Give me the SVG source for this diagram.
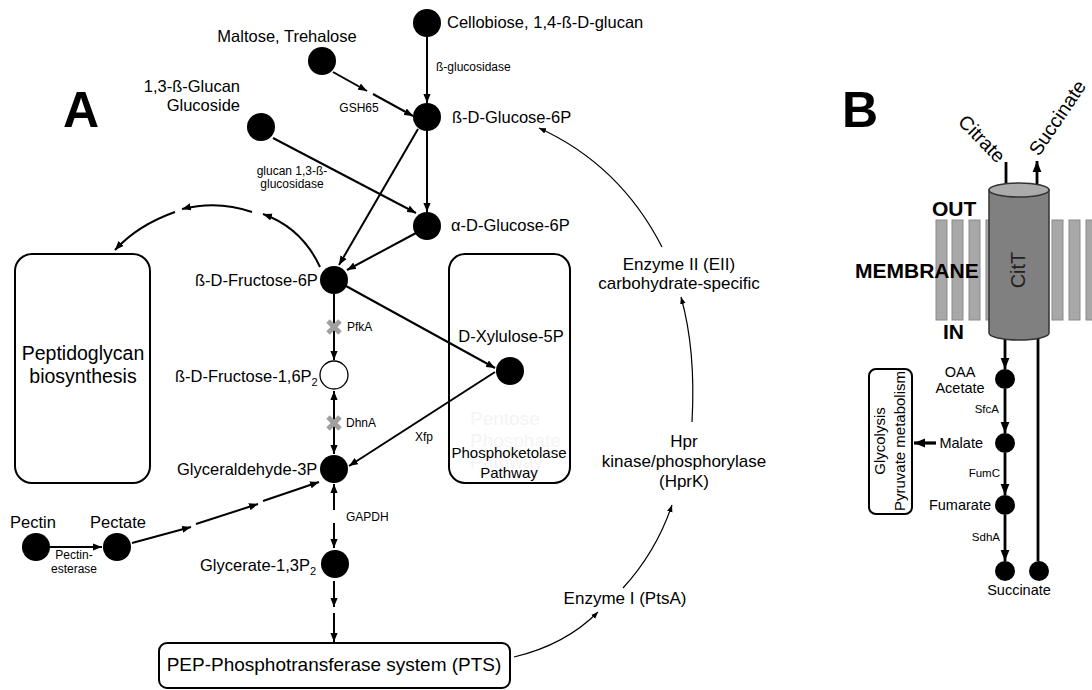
<svg xmlns="http://www.w3.org/2000/svg" width="1092" height="690" viewBox="0 0 1092 690">
<defs>
<marker id="ah" viewBox="0 0 10 8" markerUnits="userSpaceOnUse" markerWidth="9" markerHeight="7.5" refX="10" refY="4" orient="auto-start-reverse"><path d="M0,0 L10,4 L0,8 z" fill="#000"/></marker>
<marker id="ahs" viewBox="0 0 10 8" markerUnits="userSpaceOnUse" markerWidth="7" markerHeight="6" refX="10" refY="4" orient="auto"><path d="M0,0 L10,4 L0,8 z" fill="#000"/></marker>
<marker id="ahb" viewBox="0 0 10 8" markerUnits="userSpaceOnUse" markerWidth="11" markerHeight="10" refX="10" refY="4" orient="auto"><path d="M0,0 L10,4 L0,8 z" fill="#000"/></marker>
</defs>
<style>
text{font-family:"Liberation Sans",Arial,sans-serif;fill:#000}
.lbl{font-size:16.5px}
.sm{font-size:12px}
.enz{font-size:17px}
.big{font-size:50px;font-weight:bold}
.bold{font-size:21px;font-weight:bold}
.bl{font-size:14.5px}
.bsm{font-size:11.5px}
.c{text-anchor:middle}
.e{text-anchor:end}
.node{fill:#000}
.box{fill:#fff;stroke:#000;stroke-width:2}
.ln{fill:none;stroke:#000;stroke-width:2;marker-end:url(#ah)}
.thin{fill:none;stroke:#000;stroke-width:1.2;marker-end:url(#ahs)}
.bln{fill:none;stroke:#000;stroke-width:2.8}
.xg{stroke:#a0a0a0;stroke-width:5}
.bar{fill:#a8a8a8;stroke:#8a8a8a;stroke-width:1}
.faint{font-size:19px;fill:#f4f4f4}
</style>

<text class="big" x="63" y="127">A</text>
<text class="big" x="842" y="127">B</text>

<!-- boxes -->
<g id="peptidoglycan">
<rect class="box" x="15" y="254" width="135" height="229" rx="17"/>
<text class="c" style="font-size:19.5px" x="83" y="360">Peptidoglycan</text>
<text class="c" style="font-size:19.5px" x="83" y="383">biosynthesis</text>
</g>
<g id="pentose">
<rect class="box" x="449" y="254" width="121" height="229" rx="16"/>
<text class="faint" x="470" y="425">Pentose</text>
<text class="faint" x="470" y="447">Phosphate</text>
<text class="faint" x="470" y="468">Pathway</text>
<text class="c" style="font-size:15px" x="509" y="458">Phosphoketolase</text>
<text class="c" style="font-size:15px" x="509" y="478">Pathway</text>
</g>
<g id="pts">
<rect class="box" x="159" y="643" width="351" height="45" rx="8"/>
<text class="c" style="font-size:19px" x="334" y="671">PEP-Phosphotransferase system (PTS)</text>
</g>

<!-- connectors -->
<g id="connectors">
<line class="ln" x1="427" y1="37" x2="427" y2="103"/>
<line class="ln" x1="333" y1="72" x2="367" y2="91"/>
<line class="ln" x1="373" y1="94" x2="413" y2="116"/>
<line class="ln" x1="273" y1="138" x2="416" y2="213"/>
<line class="ln" x1="427" y1="131" x2="427" y2="212"/>
<line class="ln" x1="418" y1="129" x2="339" y2="265"/>
<line class="ln" x1="416" y1="233" x2="347" y2="270"/>
<line class="ln" x1="346" y1="286" x2="495" y2="368"/>
<line class="ln" x1="495" y1="372" x2="349" y2="466"/>
<line class="ln" x1="334" y1="294" x2="334" y2="360"/>
<line class="ln" x1="334" y1="391" x2="334" y2="454" style="marker-start:url(#ah)"/>
<line class="ln" x1="334" y1="510" x2="334" y2="484"/>
<line class="ln" x1="334" y1="523" x2="334" y2="548"/>
<line class="ln" x1="334" y1="581" x2="334" y2="607"/>
<line class="ln" x1="334" y1="613" x2="334" y2="642"/>
<line class="ln" x1="49" y1="547" x2="102" y2="547"/>
<line class="ln" x1="132" y1="543" x2="191" y2="527"/>
<line class="ln" x1="196" y1="524" x2="258" y2="504"/>
<line class="ln" x1="263" y1="501" x2="319" y2="482"/>
<path class="ln" d="M320,267 Q302,228 263,214"/>
<path class="ln" d="M252,212 Q218,200 182,209"/>
<path class="ln" d="M175,212 Q138,225 115,250"/>
<path class="thin" d="M514,657 Q565,645 598,612"/>
<path class="thin" d="M623,588 Q656,552 672,505"/>
<path class="thin" d="M692,422 Q696,350 681,297"/>
<path class="thin" d="M662,247 Q620,165 539,128"/>
<line class="xg" x1="328" y1="321" x2="340" y2="333"/>
<line class="xg" x1="340" y1="321" x2="328" y2="333"/>
<line class="xg" x1="328" y1="417" x2="340" y2="429"/>
<line class="xg" x1="340" y1="417" x2="328" y2="429"/>
</g>

<!-- edge labels -->
<text class="sm" x="436" y="71">ß-glucosidase</text>
<text class="sm c" x="359" y="112">GSH65</text>
<text class="sm c" x="292" y="175">glucan 1,3-ß-</text>
<text class="sm c" x="292" y="188">glucosidase</text>
<text class="sm" x="347" y="331">PfkA</text>
<text class="sm" x="346" y="427">DhnA</text>
<text class="sm" x="415" y="441">Xfp</text>
<text class="sm" x="346" y="521">GAPDH</text>
<text class="sm c" x="74" y="559">Pectin-</text>
<text class="sm c" x="74" y="573">esterase</text>

<!-- nodes -->
<g id="cellobiose"><circle class="node" cx="427" cy="23" r="14"/><text class="lbl" x="447" y="28">Cellobiose, 1,4-ß-D-glucan</text></g>
<g id="maltose"><circle class="node" cx="322" cy="61" r="14"/><text class="lbl c" x="287" y="42">Maltose, Trehalose</text></g>
<g id="glucan"><circle class="node" cx="261" cy="127" r="14"/><text class="lbl e" x="240" y="92">1,3-ß-Glucan</text><text class="lbl e" x="240" y="111">Glucoside</text></g>
<g id="b-glucose-6p"><circle class="node" cx="427" cy="117" r="14"/><text class="lbl" x="452" y="123">ß-D-Glucose-6P</text></g>
<g id="a-glucose-6p"><circle class="node" cx="427" cy="226" r="14"/><text class="lbl" x="451" y="231">α-D-Glucose-6P</text></g>
<g id="fructose-6p"><text class="lbl" x="195" y="286">ß-D-Fructose-6P</text><circle class="node" cx="334" cy="280" r="14"/></g>
<g id="fructose-16p2"><text class="lbl" x="175" y="382">ß-D-Fructose-1,6P<tspan style="font-size:11px" dy="4">2</tspan></text><circle cx="334" cy="375" r="14" fill="#fff" stroke="#000" stroke-width="1.3"/></g>
<g id="glyceraldehyde-3p"><text class="lbl" x="177" y="475">Glyceraldehyde-3P</text><circle class="node" cx="334" cy="469" r="14"/></g>
<g id="glycerate-13p2"><text class="lbl" x="200" y="571">Glycerate-1,3P<tspan style="font-size:11px" dy="4">2</tspan></text><circle class="node" cx="335" cy="564" r="14"/></g>
<g id="xylulose-5p"><circle class="node" cx="510" cy="371" r="14"/><text class="lbl c" x="511" y="342">D-Xylulose-5P</text></g>
<g id="pectin"><circle class="node" cx="36" cy="547" r="14"/><text class="lbl c" x="33" y="528">Pectin</text></g>
<g id="pectate"><circle class="node" cx="117" cy="547" r="14"/><text class="lbl c" x="118" y="528">Pectate</text></g>
<g id="enzyme-ii"><text class="enz c" x="679" y="270">Enzyme II (EII)</text><text class="enz c" x="679" y="289">carbohydrate-specific</text></g>
<g id="hprk"><text class="enz c" x="684" y="447">Hpr</text><text class="enz c" x="684" y="467">kinase/phosphorylase</text><text class="enz c" x="684" y="487">(HprK)</text></g>
<g id="enzyme-i"><text class="enz c" x="625" y="604">Enzyme I (PtsA)</text></g>

<!-- Panel B -->
<g id="membrane">
<rect class="bar" x="936" y="220" width="11" height="100"/>
<rect class="bar" x="952" y="220" width="11" height="100"/>
<rect class="bar" x="969" y="220" width="11" height="100"/>
<rect class="bar" x="986" y="220" width="11" height="100"/>
<rect class="bar" x="1052" y="220" width="11" height="100"/>
<rect class="bar" x="1069" y="220" width="11" height="100"/>
<rect class="bar" x="1086" y="220" width="11" height="100"/>
<text class="bold" x="932" y="216">OUT</text>
<text class="bold" x="855" y="278">MEMBRANE</text>
<text class="bold" x="943" y="339">IN</text>
</g>
<g id="connectors-b">
<line class="bln" x1="1006" y1="162" x2="1006" y2="186"/>
<line class="bln" x1="1037" y1="186" x2="1037" y2="161" style="marker-end:url(#ahb)"/>
<line class="bln" x1="1005" y1="338" x2="1005" y2="369" style="marker-end:url(#ahb)"/>
<line class="bln" x1="1038" y1="338" x2="1038" y2="561"/>
<line class="bln" x1="1005" y1="389" x2="1005" y2="433" style="marker-end:url(#ahb)"/>
<line class="bln" x1="1005" y1="453" x2="1005" y2="495" style="marker-end:url(#ahb)"/>
<line class="bln" x1="1005" y1="515" x2="1005" y2="561" style="marker-end:url(#ahb)"/>
<line class="bln" x1="936" y1="443" x2="914" y2="443" style="stroke-width:3.2;marker-end:url(#ahb)"/>
</g>
<g id="citt">
<path d="M989,190 L989,333 A30,7 0 0 0 1049,333 L1049,190 z" fill="#808080" stroke="#333" stroke-width="1.5"/>
<ellipse cx="1019" cy="190" rx="30" ry="7" fill="#ababab" stroke="#333" stroke-width="1.5"/>
<text transform="translate(1025,270) rotate(-90)" class="c" style="font-size:20px;fill:#222">CitT</text>
</g>
<g id="citrate"><text transform="translate(997,164) rotate(46)" class="e" style="font-size:19.5px">Citrate</text></g>
<g id="succinate-out"><text transform="translate(1039,157) rotate(-56)" style="font-size:19.5px">Succinate</text></g>
<g id="glycolysis">
<rect class="box" x="869" y="369" width="43" height="145" rx="7"/>
<text transform="translate(885,441) rotate(-90)" class="c" style="font-size:15px">Glycolysis</text>
<text transform="translate(905,441) rotate(-90)" class="c" style="font-size:15px">Pyruvate metabolism</text>
</g>
<g id="oaa"><circle class="node" cx="1005" cy="379" r="10"/><text class="bl c" x="960" y="377">OAA</text><text class="bl c" x="960" y="393">Acetate</text></g>
<g id="malate"><circle class="node" cx="1005" cy="443" r="10"/><text class="bl e" x="983" y="448">Malate</text></g>
<g id="fumarate"><circle class="node" cx="1005" cy="505" r="10"/><text class="bl e" x="991" y="510">Fumarate</text></g>
<g id="succinate"><circle class="node" cx="1005" cy="571" r="10"/><circle class="node" cx="1039" cy="571" r="10"/><text class="bl c" x="1019" y="595">Succinate</text></g>
<text class="bsm e" x="999" y="413">SfcA</text>
<text class="bsm e" x="1000" y="477">FumC</text>
<text class="bsm e" x="1000" y="541">SdhA</text>
</svg>
